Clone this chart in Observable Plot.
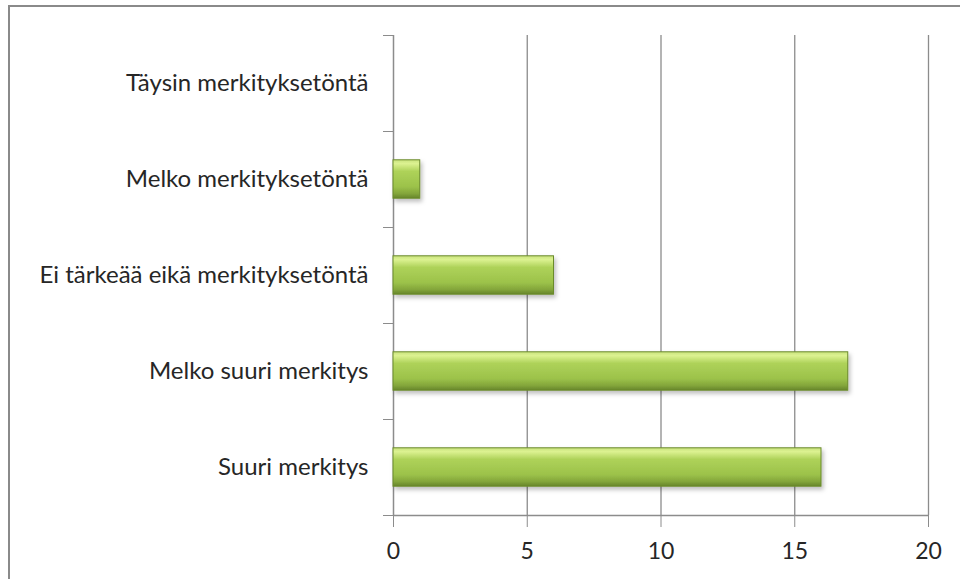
<!DOCTYPE html>
<html><head><meta charset="utf-8">
<script src="https://cdn.jsdelivr.net/npm/d3@7"></script>
<script src="https://cdn.jsdelivr.net/npm/@observablehq/plot@0.6"></script>
<style>
body{margin:0;background:#fff;}
#wrap{position:relative;width:960px;height:579px;overflow:hidden;background:#fff;}
#frame{position:absolute;left:8px;top:5px;width:1000px;height:1000px;border-left:2.5px solid #8a8a8a;border-top:2.5px solid #8a8a8a;}
#chart{position:absolute;left:0;top:0;}
</style></head><body>
<div id="wrap"><div id="frame"></div><div id="chart"></div></div>
<script>
// categories listed bottom to top
const categories = ["Suuri merkitys", "Melko suuri merkitys", "Ei tärkeää eikä merkityksetöntä", "Melko merkityksetöntä", "Täysin merkityksetöntä"];
const values = [16, 17, 6, 1, 0];
const xTicks = [0, 5, 10, 15, 20];
const bandEdges = [0, 1, 2, 3, 4, 5];

const data = categories.map((c, i) => ({category: c, value: values[i], pos: i}));

const axisColor = "#8c8c8c";
const textColor = "#262626";

const plot = Plot.plot({
  width: 960, height: 579,
  marginLeft: 393, marginRight: 32, marginTop: 35, marginBottom: 64,
  style: {fontFamily: "Lato, 'Open Sans', sans-serif", background: "transparent", color: textColor},
  x: {domain: [0, 20]},
  y: {domain: [0, 5]},
  marks: [
    Plot.gridX(xTicks.slice(1), {stroke: axisColor, strokeOpacity: 1, strokeWidth: 1.3}),
    Plot.axisX(xTicks, {tickSize: 12, tickPadding: 15, fontSize: 23, stroke: axisColor, fill: textColor, tickFormat: d => String(d), label: null}),
    Plot.ruleY([0], {stroke: axisColor, strokeWidth: 1.5}),
    Plot.axisY(bandEdges, {tickSize: 10, tickFormat: () => "", stroke: axisColor, label: null}),
    Plot.ruleX([0], {stroke: axisColor, strokeWidth: 1.5}),
    Plot.rectX(data.filter(d => d.value > 0), {x1: 0, x2: "value", y1: d => d.pos + 0.3, y2: d => d.pos + 0.7, fill: "url(#barGrad)", stroke: "#6b8b2b", strokeWidth: 1}),
    Plot.text(data, {x: 0, y: d => d.pos + 0.5, text: "category", textAnchor: "end", dx: -25, fontSize: 24, fill: textColor})
  ]
});

const svg = d3.select(plot);
const defs = svg.insert("defs", ":first-child");
const g = defs.append("linearGradient").attr("id", "barGrad").attr("x1", 0).attr("y1", 0).attr("x2", 0).attr("y2", 1);
[[0, "#c9e37e"], [0.1, "#dcf291"], [0.3, "#aed259"], [0.7, "#9cc24a"], [0.88, "#83a53a"], [1, "#66852a"]]
  .forEach(([o, c]) => g.append("stop").attr("offset", o).attr("stop-color", c));
const f = defs.append("filter").attr("id", "shadow").attr("x", "-10%").attr("y", "-30%").attr("width", "130%").attr("height", "180%");
f.append("feDropShadow").attr("dx", 2).attr("dy", 3).attr("stdDeviation", 2).attr("flood-color", "#000").attr("flood-opacity", 0.25);
svg.selectAll("g[aria-label='rect']").attr("filter", "url(#shadow)");

document.getElementById("chart").appendChild(plot);
</script>
</body></html>
